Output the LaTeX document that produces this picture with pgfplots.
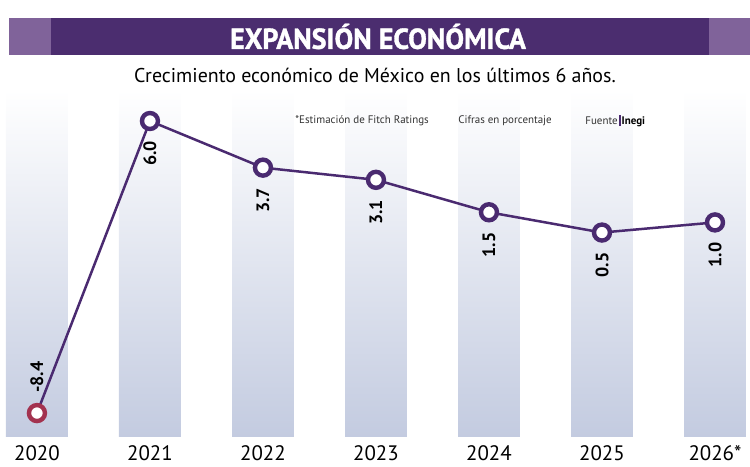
\documentclass[border=0pt]{standalone}
\usepackage{pgfplots}
\pgfplotsset{compat=1.18}
\usepackage{fontspec}
\setmainfont{PT Sans}
\newfontfamily\titlefont[FakeStretch=0.97, FakeBold=1.2]{PT Sans Bold}
\definecolor{tdark}{HTML}{4B2D6F}
\definecolor{tlight}{HTML}{80639A}
\definecolor{lc}{HTML}{4A2A70}
\definecolor{firstc}{HTML}{A3324F}
\definecolor{bandc}{HTML}{C3CBE0}
\definecolor{annc}{HTML}{333333}
\begin{document}
\begin{tikzpicture}[x=1bp,y=1bp]
\useasboundingbox (0,0) rectangle (375,233.5);
\fill[tlight] (4.35,206) rectangle (375,224.5);
\fill[tdark] (25.25,206) rectangle (354.5,224.5);
\node[text=white, font=\titlefont\fontsize{14.5}{15}\selectfont, inner sep=0] at (189,215.25) {EXPANSIÓN ECONÓMICA};
\node[anchor=base, inner sep=0, font=\fontsize{10}{12}\selectfont] at (187.5,192.5) {Crecimiento económico de México en los últimos 6 años.};
\begin{axis}[
  at={(0bp,15bp)}, anchor=south west, scale only axis,
  width=375bp, height=173.5bp,
  xmin=-0.327, xmax=6.31, ymin=-9.58, ymax=7.53,
  axis line style={draw=none}, major tick length=0pt,
  xtick={0,1,2,3,4,5,6},
  xticklabels={2020,2021,2022,2023,2024,2025,2026*},
  ytick=\empty,
  xticklabel style={font=\fontsize{10.5}{12}\selectfont, anchor=base, yshift=-11.5bp, text=black},
  clip=false,
]
\addplot[draw=none, top color=white, bottom color=bandc, forget plot] coordinates {(-0.274,-9.58) (0.274,-9.58) (0.274,7.53) (-0.274,7.53)} --cycle;
\addplot[draw=none, top color=white, bottom color=bandc, forget plot] coordinates {(0.726,-9.58) (1.274,-9.58) (1.274,7.53) (0.726,7.53)} --cycle;
\addplot[draw=none, top color=white, bottom color=bandc, forget plot] coordinates {(1.726,-9.58) (2.274,-9.58) (2.274,7.53) (1.726,7.53)} --cycle;
\addplot[draw=none, top color=white, bottom color=bandc, forget plot] coordinates {(2.726,-9.58) (3.274,-9.58) (3.274,7.53) (2.726,7.53)} --cycle;
\addplot[draw=none, top color=white, bottom color=bandc, forget plot] coordinates {(3.726,-9.58) (4.274,-9.58) (4.274,7.53) (3.726,7.53)} --cycle;
\addplot[draw=none, top color=white, bottom color=bandc, forget plot] coordinates {(4.726,-9.58) (5.274,-9.58) (5.274,7.53) (4.726,7.53)} --cycle;
\addplot[draw=none, top color=white, bottom color=bandc, forget plot] coordinates {(5.726,-9.58) (6.274,-9.58) (6.274,7.53) (5.726,7.53)} --cycle;
% line
\addplot[color=lc, line width=1.25bp, no markers] coordinates {(0,-8.4) (1,6.0) (2,3.7) (3,3.1) (4,1.5) (5,0.5) (6,1.0)};
% markers with labels below
\addplot[only marks, mark=*, mark size=4.0bp, mark options={fill=white, draw=lc, line width=2.2bp},
  point meta=explicit symbolic, nodes near coords,
  every node near coord/.append style={rotate=90, anchor=east, inner xsep=9bp, inner ysep=0pt, font=\bfseries\fontsize{9}{10}\selectfont, text=black}]
  table[meta=label] {
x y label
1 6.0 6.0
2 3.7 3.7
3 3.1 3.1
4 1.5 1.5
5 0.5 0.5
6 1.0 1.0
};
\addplot[only marks, mark=*, mark size=4.0bp, mark options={fill=white, draw=firstc, line width=2.2bp},
  point meta=explicit symbolic, nodes near coords,
  every node near coord/.append style={rotate=90, anchor=west, inner xsep=9bp, inner ysep=0pt, font=\bfseries\fontsize{9}{10}\selectfont, text=black}]
  table[meta=label] {
x y label
0 -8.4 -8.4
};
\end{axis}
\node[anchor=west, inner sep=0, text=annc, font=\fontsize{5.5}{6}\selectfont] at (147.5,173) {*Estimación de Fitch Ratings};
\node[anchor=west, inner sep=0, text=annc, font=\fontsize{5.5}{6}\selectfont] at (229,173) {Cifras en porcentaje};
\node[anchor=west, inner sep=0, text=annc, font=\fontsize{5.5}{6}\selectfont] at (292.5,173) {Fuente\hspace{0.5pt}{\color{lc}\rule[-0.12em]{1pt}{0.95em}}\hspace{0.5pt}\textcolor{black}{\bfseries Inegi}};
\end{tikzpicture}
\end{document}
